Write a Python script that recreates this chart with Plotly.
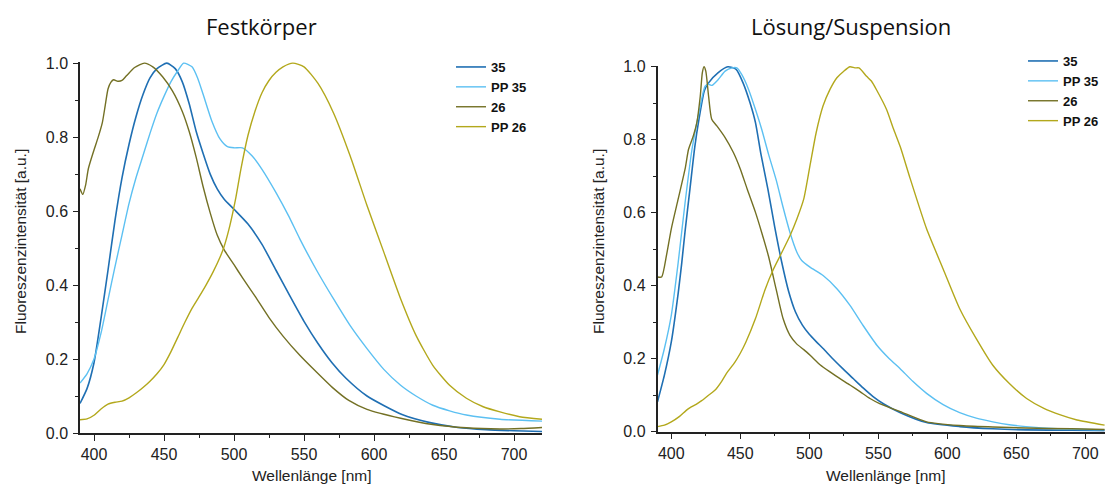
import plotly.graph_objects as go

W, H = 1105, 486

# ---------------- Festkörper (solid state) ----------------
fk_35_x = [390, 395, 400, 405, 410, 415, 420, 425, 430, 435, 440, 445, 452, 458, 463, 468, 473, 478,
           483, 488, 493, 500, 510, 520, 530, 540, 550, 560, 570, 580, 595, 620, 640, 660, 680, 700, 720]
fk_35_y = [0.08, 0.12, 0.19, 0.31, 0.44, 0.575, 0.69, 0.78, 0.855, 0.915, 0.96, 0.985, 1.0, 0.985, 0.95,
           0.89, 0.815, 0.755, 0.70, 0.66, 0.632, 0.605, 0.565, 0.51, 0.44, 0.37, 0.302, 0.242, 0.19,
           0.148, 0.10, 0.05, 0.028, 0.015, 0.009, 0.006, 0.004]

fk_pp35_x = [390, 395, 400, 405, 410, 415, 420, 425, 430, 435, 440, 445, 450, 455, 460, 464, 470, 474,
             478, 484, 490, 495, 500, 506, 513, 520, 530, 539, 547, 559, 571, 583, 595, 607, 619, 630,
             642, 654, 666, 690, 720]
fk_pp35_y = [0.135, 0.16, 0.20, 0.27, 0.36, 0.45, 0.535, 0.62, 0.69, 0.75, 0.81, 0.865, 0.91, 0.95,
             0.98, 1.0, 0.99, 0.96, 0.915, 0.845, 0.795, 0.775, 0.771, 0.771, 0.749, 0.713, 0.65, 0.587,
             0.525, 0.44, 0.363, 0.29, 0.228, 0.172, 0.129, 0.10, 0.075, 0.06, 0.0485, 0.037, 0.032]

fk_26_x = [390, 392, 394, 396, 400, 403, 406, 408, 410, 412, 414, 417, 420, 423, 429, 436, 442, 449,
           456, 463, 468, 473, 478, 483, 488, 493, 500, 506, 515, 525, 535, 547, 558, 570, 582, 595,
           619, 642, 666, 690, 705, 720]
fk_26_y = [0.66, 0.645, 0.67, 0.715, 0.765, 0.80, 0.84, 0.885, 0.93, 0.948, 0.955, 0.951, 0.953, 0.965,
           0.988, 1.0, 0.99, 0.963, 0.925, 0.87, 0.815, 0.745, 0.665, 0.595, 0.535, 0.495, 0.455, 0.42,
           0.37, 0.312, 0.262, 0.21, 0.168, 0.124, 0.088, 0.064, 0.04, 0.023, 0.014, 0.011, 0.012, 0.015]

fk_pp26_x = [390, 395, 400, 405, 410, 415, 420, 425, 430, 435, 440, 445, 450, 455, 460, 465, 470, 475,
             480, 485, 490, 493, 497, 501, 505, 510, 515, 520, 525, 530, 535, 542, 550, 560, 571, 583,
             595, 607, 619, 630, 642, 654, 666, 678, 690, 704, 720]
fk_pp26_y = [0.036, 0.038, 0.048, 0.065, 0.078, 0.083, 0.086, 0.095, 0.108, 0.123, 0.14, 0.16, 0.185,
             0.22, 0.26, 0.30, 0.337, 0.368, 0.40, 0.435, 0.475, 0.505, 0.56, 0.63, 0.715, 0.805, 0.87,
             0.92, 0.953, 0.975, 0.99, 1.0, 0.99, 0.945, 0.866, 0.749, 0.615, 0.489, 0.363, 0.264,
             0.183, 0.129, 0.094, 0.071, 0.057, 0.044, 0.037]

# ---------------- Lösung/Suspension (solution) ----------------
ls_35_x = [390, 395, 400, 405, 407.5, 410, 413.5, 417, 420, 424, 427, 434, 441, 447, 452, 457, 461,
           465, 470, 475, 480, 485, 490, 495, 500, 505, 510, 517, 525, 532, 539, 546, 554, 566,
           585, 609, 633, 657, 690, 714]
ls_35_y = [0.082, 0.155, 0.246, 0.38, 0.46, 0.55, 0.665, 0.78, 0.855, 0.935, 0.956, 0.984, 1.0, 0.993,
           0.956, 0.902, 0.847, 0.76, 0.665, 0.56, 0.465, 0.385, 0.328, 0.292, 0.267, 0.247, 0.228,
           0.2, 0.17, 0.145, 0.12, 0.097, 0.076, 0.052, 0.025, 0.014, 0.008, 0.005, 0.004, 0.003]

ls_pp35_x = [390, 395, 400, 405, 410, 415, 420, 424.5, 427, 429.5, 434, 439, 444, 447.5, 451, 456, 461,
             465.5, 470.5, 476, 481, 486, 491, 494.5, 500.5, 510, 520, 529.5, 539, 549, 558, 566,
             575, 585, 597, 609, 621, 633, 645, 657, 680, 714]
ls_pp35_y = [0.155, 0.228, 0.319, 0.464, 0.628, 0.774, 0.874, 0.947, 0.952, 0.949, 0.965, 0.988, 0.997,
             0.997, 0.979, 0.938, 0.883, 0.829, 0.76, 0.69, 0.615, 0.546, 0.492, 0.469, 0.451, 0.428,
             0.392, 0.346, 0.291, 0.237, 0.2, 0.172, 0.138, 0.105, 0.074, 0.052, 0.037, 0.027, 0.019,
             0.014, 0.008, 0.005]

ls_26_x = [390, 393, 396.5, 400, 405, 410, 412.5, 416, 418.5, 421, 422.5, 423.7, 425, 427, 429.3, 433,
           439, 445, 450, 455, 461, 465.5, 470.5, 476, 481, 486, 491, 496, 501, 508, 515, 522, 529.5,
           537, 544, 551, 566, 585, 609, 633, 657, 690, 714]
ls_26_y = [0.424, 0.424, 0.483, 0.556, 0.638, 0.72, 0.774, 0.811, 0.847, 0.92, 0.984, 1.0, 0.988, 0.92,
           0.856, 0.838, 0.806, 0.765, 0.72, 0.665, 0.601, 0.546, 0.48, 0.39, 0.31, 0.264, 0.24,
           0.225, 0.208, 0.183, 0.164, 0.146, 0.128, 0.109, 0.091, 0.077, 0.055, 0.027, 0.017, 0.013,
           0.01, 0.008, 0.006]

ls_pp26_x = [390, 395, 400, 406, 412, 418, 422, 427, 432, 436, 440, 446, 450, 454, 461, 468, 474, 479,
             486, 491, 496, 500.5, 505, 510, 515, 520, 525, 529.5, 533, 536, 541.5, 545, 549, 556, 561,
             566, 573, 585, 597, 609, 621, 633, 645, 657.5, 670, 682, 694, 714]
ls_pp26_y = [0.014, 0.018, 0.027, 0.042, 0.062, 0.075, 0.085, 0.10, 0.115, 0.135, 0.16, 0.19, 0.215,
             0.245, 0.31, 0.39, 0.445, 0.483, 0.537, 0.583, 0.638, 0.729, 0.82, 0.893, 0.938, 0.97,
             0.988, 1.0, 0.997, 0.997, 0.974, 0.961, 0.935, 0.883, 0.83, 0.78, 0.695, 0.556, 0.446,
             0.337, 0.255, 0.182, 0.132, 0.091, 0.064, 0.046, 0.032, 0.018]

names = ["35", "PP 35", "26", "PP 26"]
colors = ["#1f6fb3", "#5cc0f2", "#737024", "#b3a81c"]
widths = [1.6, 1.4, 1.4, 1.4]

titles = ["Festkörper", "Lösung/Suspension"]
x_title = "Wellenlänge [nm]"
y_title = "Fluoreszenzintensität [a.u.]"

fig = go.Figure()

left = [(fk_35_x, fk_35_y), (fk_pp35_x, fk_pp35_y), (fk_26_x, fk_26_y), (fk_pp26_x, fk_pp26_y)]
right = [(ls_35_x, ls_35_y), (ls_pp35_x, ls_pp35_y), (ls_26_x, ls_26_y), (ls_pp26_x, ls_pp26_y)]

for i, (xs, ys) in enumerate(left):
    fig.add_trace(go.Scatter(x=xs, y=ys, mode="lines", name=names[i],
                             line=dict(color=colors[i], width=widths[i], shape="spline", smoothing=0.6),
                             xaxis="x", yaxis="y", legend="legend"))
for i, (xs, ys) in enumerate(right):
    fig.add_trace(go.Scatter(x=xs, y=ys, mode="lines", name=names[i],
                             line=dict(color=colors[i], width=widths[i], shape="spline", smoothing=0.6),
                             xaxis="x2", yaxis="y2", legend="legend2"))

tickfont = dict(family="Liberation Sans, Arial, sans-serif", size=16, color="#222222")

def xaxis(domain, rng):
    return dict(domain=domain, range=rng, tick0=400, dtick=50, ticks="outside", ticklen=6,
                tickwidth=1.3, tickcolor="#222", showline=True, linecolor="#222", linewidth=1.5,
                showgrid=False, zeroline=False, tickfont=tickfont, automargin=False,
                minor=dict(tick0=375, dtick=25, ticks="outside", ticklen=3, tickwidth=1.1,
                           tickcolor="#222", showgrid=False))

def yaxis(domain, anchor):
    return dict(domain=domain, range=[0, 1.003], tick0=0, dtick=0.2, tickformat=".1f",
                ticks="outside", ticklen=5, tickwidth=1.3, tickcolor="#222", showline=True,
                linecolor="#222", linewidth=1.5, showgrid=False, zeroline=False, tickfont=tickfont,
                anchor=anchor, ticklabelstandoff=2, automargin=False,
                minor=dict(tick0=0, dtick=0.1, ticks="outside", ticklen=3, tickwidth=1.1,
                           tickcolor="#222", showgrid=False))

xl0, xl1 = 80 / W, 542 / W
yl0, yl1 = 1 - 433 / H, 1 - 62 / H
xr0, xr1 = 657.5 / W, 1.0
yr0, yr1 = 1 - 431.7 / H, 1 - 65.7 / H

legfont = dict(family="Liberation Sans, Arial, sans-serif", size=13, color="#111111", weight="bold")

fig.update_layout(
    width=W, height=H, margin=dict(l=0, r=0, t=0, b=0, pad=0, autoexpand=False),
    paper_bgcolor="white", plot_bgcolor="white",
    xaxis=dict(xaxis([xl0, xl1], [390, 720]), anchor="y"),
    yaxis=yaxis([yl0, yl1], "x"),
    xaxis2=dict(xaxis([xr0, xr1], [390, 714.3]), anchor="y2"),
    yaxis2=yaxis([yr0, yr1], "x2"),
    legend=dict(x=451 / W, y=1 - 52 / H, xanchor="left", yanchor="top", bgcolor="rgba(0,0,0,0)",
                font=legfont, itemwidth=30, tracegroupgap=0),
    legend2=dict(x=1023 / W, y=1 - 46 / H, xanchor="left", yanchor="top", bgcolor="rgba(0,0,0,0)",
                 font=legfont, itemwidth=30, tracegroupgap=0),
    showlegend=True,
)

title_font = dict(family="Open Sans, Noto Sans, sans-serif", size=22, color="#111111")
lab_font = dict(family="Liberation Sans, Arial, sans-serif", size=15.5, color="#222222")

ann = [
    dict(text=titles[0], x=261 / W, y=1 - 26 / H, font=title_font),
    dict(text=titles[1], x=851 / W, y=1 - 26 / H, font=title_font),
    dict(text=x_title, x=311 / W, y=1 - 475 / H, font=lab_font),
    dict(text=x_title, x=885 / W, y=1 - 475 / H, font=lab_font),
    dict(text=y_title, x=20 / W, y=1 - 242 / H, font=lab_font, textangle=-90),
    dict(text=y_title, x=598 / W, y=1 - 242 / H, font=lab_font, textangle=-90),
]
for a in ann:
    fig.add_annotation(xref="paper", yref="paper", xanchor="center", yanchor="middle",
                       showarrow=False, **a)

fig.write_html("out.html", config={"displayModeBar": False},
               post_script="document.body.style.margin='0';document.body.style.overflow='hidden';")
